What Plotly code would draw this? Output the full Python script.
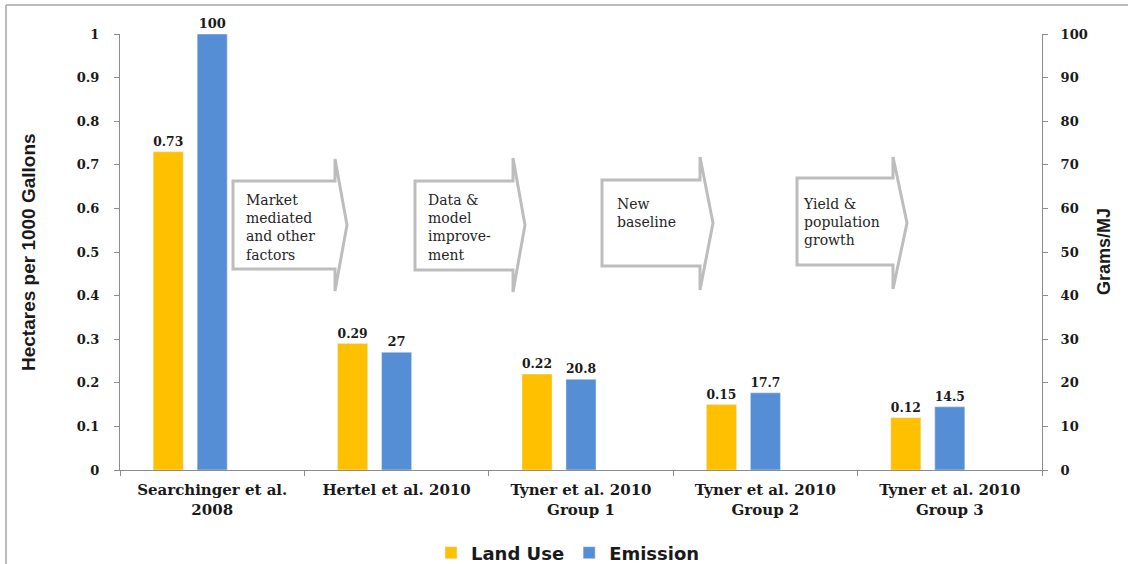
import plotly.graph_objects as go

# ---- data ----
studies = [
    "Searchinger et al.<br>2008",
    "Hertel et al. 2010",
    "Tyner et al. 2010<br>Group 1",
    "Tyner et al. 2010<br>Group 2",
    "Tyner et al. 2010<br>Group 3",
]
land_use = [0.73, 0.29, 0.22, 0.15, 0.12]      # hectares per 1000 gallons
emission = [100, 27, 20.8, 17.7, 14.5]        # grams / MJ

left_ticks = [0, 0.1, 0.2, 0.3, 0.4, 0.5, 0.6, 0.7, 0.8, 0.9, 1]
left_tick_text = ["0", "0.1", "0.2", "0.3", "0.4", "0.5", "0.6", "0.7", "0.8", "0.9", "1"]
right_ticks = [0, 10, 20, 30, 40, 50, 60, 70, 80, 90, 100]

step_labels = [
    "Market<br>mediated<br>and other<br>factors",
    "Data &<br>model<br>improve-<br>ment",
    "New<br>baseline",
    "Yield &<br>population<br>growth",
]

# ---- page geometry (pixels) ----
W, H = 1128, 564
PL, PR, PT, PB = 120, 1042, 34, 470   # plot area edges


def px(x):
    return (x - PL) / (PR - PL)


def py(y):
    return (PB - y) / (PB - PT)


BAR_W = 0.163
YELLOW = "#FFC000"
BLUE = "#558ED5"
SERIF = "DejaVu Serif, Liberation Serif, serif"
SANS = "DejaVu Sans, Liberation Sans, sans-serif"
NARROW = "Liberation Sans Narrow, Arial Narrow, Liberation Sans, sans-serif"
INK = "#1a1a1a"
AXIS = "#8c8c8c"

fig = go.Figure()
fig.add_trace(go.Bar(
    x=studies, y=land_use, name="Land Use", marker_color=YELLOW,
    width=BAR_W, offset=-0.32, texttemplate="%{y}", textposition="outside",
    textfont=dict(family=SERIF, size=13, color=INK, weight="bold"),
    cliponaxis=False, yaxis="y",
))
fig.add_trace(go.Bar(
    x=studies, y=emission, name="Emission", marker_color=BLUE,
    width=BAR_W, offset=-BAR_W / 2, texttemplate="%{y}", textposition="outside",
    textfont=dict(family=SERIF, size=13, color=INK, weight="bold"),
    cliponaxis=False, yaxis="y2",
))

# ---- step arrows between studies: (body left, body right, body top, body bottom,
#      head top, head bottom, tip x, tip y, text x, text y) ----
arrows = [
    (233, 335, 181, 269, 159, 291, 347, 225, 244, 190),
    (415, 513, 181, 270, 158, 292, 525, 225, 426, 190),
    (602, 700, 180, 266, 157, 290, 713, 223, 615, 194),
    (797, 893, 178, 265, 157, 289, 907, 223, 801, 194),
]
shapes = []
annotations = []
for (bl, br, bt, bb, ht, hb, tx, ty, lx, ly), label in zip(arrows, step_labels):
    pts = [(bl, bt), (br, bt), (br, ht), (tx, ty), (br, hb), (br, bb), (bl, bb)]
    path = "M " + " L ".join(f"{px(a):.5f},{py(b):.5f}" for a, b in pts) + " Z"
    shapes.append(dict(type="path", xref="paper", yref="paper", path=path,
                       fillcolor="white", line=dict(color="#bdbdbd", width=3),
                       layer="above"))
    annotations.append(dict(xref="paper", yref="paper", x=px(lx), y=py(ly),
                            xanchor="left", yanchor="top", align="left",
                            text=label, showarrow=False,
                            font=dict(family=SERIF, size=14, color="#262626")))

# outer frame (top and left edges)
shapes.append(dict(type="line", xref="paper", yref="paper",
                   x0=px(6), x1=px(W + 5), y0=py(5), y1=py(5),
                   line=dict(color="#a6a6a6", width=1.5)))
shapes.append(dict(type="line", xref="paper", yref="paper",
                   x0=px(6), x1=px(6), y0=py(5), y1=py(H + 5),
                   line=dict(color="#a6a6a6", width=1.5)))

# axis titles
annotations.append(dict(xref="paper", yref="paper", x=px(28), y=py(252),
                        text="Hectares per 1000 Gallons", textangle=-90,
                        showarrow=False, xanchor="center", yanchor="middle",
                        font=dict(family=NARROW, size=19, color=INK, weight="bold")))
annotations.append(dict(xref="paper", yref="paper", x=px(1104), y=py(252),
                        text="Grams/MJ", textangle=-90,
                        showarrow=False, xanchor="center", yanchor="middle",
                        font=dict(family=NARROW, size=18, color=INK, weight="bold")))

fig.update_layout(
    width=W, height=H,
    margin=dict(l=PL, r=W - PR, t=PT, b=H - PB, pad=0, autoexpand=False),
    paper_bgcolor="white", plot_bgcolor="white",
    barmode="overlay",
    showlegend=True,
    legend=dict(orientation="h", x=px(568), y=py(553), xanchor="center",
                yanchor="middle", font=dict(family=SANS, size=18, color=INK,
                                            weight="bold"),
                itemwidth=30, tracegroupgap=0, bgcolor="rgba(0,0,0,0)"),
    xaxis=dict(
        type="category", range=[-0.5, 4.5], showgrid=False, automargin=False,
        showline=True, linecolor=AXIS, linewidth=1,
        ticks="outside", ticklen=5, tickcolor=AXIS, tickson="boundaries",
        tickfont=dict(family=SERIF, size=15, color=INK, weight="bold"),
        ticklabelstandoff=6,
    ),
    yaxis=dict(
        range=[0, 1], tickvals=left_ticks, ticktext=left_tick_text,
        showgrid=False, zeroline=False, automargin=False,
        showline=True, linecolor=AXIS, linewidth=1,
        ticks="outside", ticklen=5, tickcolor=AXIS,
        tickfont=dict(family=SERIF, size=13, color=INK, weight="bold"),
        ticklabelstandoff=12,
    ),
    yaxis2=dict(
        range=[0, 100], tickvals=right_ticks, overlaying="y", side="right",
        showgrid=False, zeroline=False, automargin=False,
        showline=True, linecolor=AXIS, linewidth=1,
        ticks="outside", ticklen=5, tickcolor=AXIS,
        tickfont=dict(family=SERIF, size=13, color=INK, weight="bold"),
        ticklabelstandoff=10,
    ),
    shapes=shapes,
    annotations=annotations,
)

fig.write_html("out.html")
